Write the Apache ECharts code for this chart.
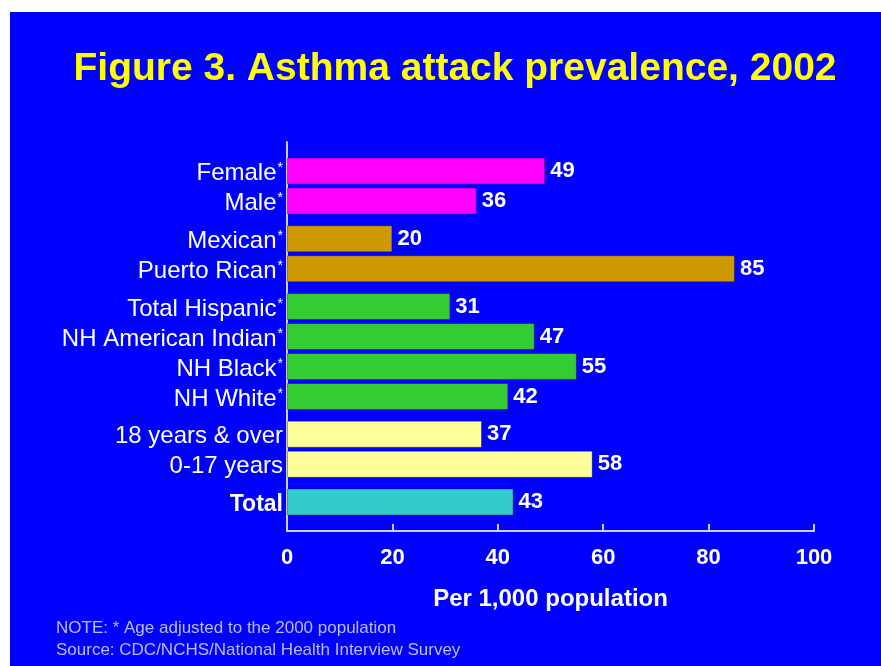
<!DOCTYPE html>
<html>
<head>
<meta charset="utf-8">
<title>Asthma attack prevalence, 2002</title>
<script src="https://cdn.jsdelivr.net/npm/echarts@6/dist/echarts.min.js"></script>
<style>
  html, body { margin: 0; padding: 0; background: #ffffff; }
  #chart { position: absolute; left: 10px; top: 12px; width: 871px; height: 654px; }
</style>
</head>
<body>
<div id="chart"></div>
<script>
  // data, one small array per group (top to bottom)
  var sexLabels = ['Female*', 'Male*'];
  var sexValues = [49, 36];
  var hispLabels = ['Mexican*', 'Puerto Rican*'];
  var hispValues = [20, 85];
  var raceLabels = ['Total Hispanic*', 'NH American Indian*', 'NH Black*', 'NH White*'];
  var raceValues = [31, 47, 55, 42];
  var ageLabels = ['18 years & over', '0-17 years'];
  var ageValues = [37, 58];
  var totalLabels = ['Total'];
  var totalValues = [43];
  var xTicks = [0, 20, 40, 60, 80, 100];

  var groups = [
    { labels: sexLabels, values: sexValues, color: '#ff00ff' },
    { labels: hispLabels, values: hispValues, color: '#cc9900' },
    { labels: raceLabels, values: raceValues, color: '#33cc33' },
    { labels: ageLabels, values: ageValues, color: '#ffff99' },
    { labels: totalLabels, values: totalValues, color: '#33cccc' }
  ];

  var font = 'Liberation Sans, Arial, sans-serif';
  var axisColor = '#ccccff';
  var plotLeft = 277, plotRight = 67;
  var slot = 30, groupGap = 7.75, firstTop = 144;

  var grids = [{ left: plotLeft, right: plotRight, top: 130, bottom: 135 }];
  var xAxes = [{
    type: 'value', gridIndex: 0,
    min: xTicks[0], max: xTicks[xTicks.length - 1], interval: xTicks[1] - xTicks[0],
    axisLine: { show: true, lineStyle: { color: axisColor, width: 2 } },
    axisTick: { show: true, inside: true, length: 7, lineStyle: { color: axisColor, width: 2 } },
    splitLine: { show: false },
    axisLabel: { color: '#ffffff', fontSize: 22, fontWeight: 'bold', fontFamily: font, margin: 16 },
    name: 'Per 1,000 population',
    nameLocation: 'middle',
    nameGap: 56,
    nameTextStyle: { color: '#ffffff', fontSize: 24, fontWeight: 'bold', fontFamily: font }
  }];
  var yAxes = [{
    type: 'value', gridIndex: 0,
    axisLine: { show: true, lineStyle: { color: axisColor, width: 2 } },
    axisTick: { show: false }, axisLabel: { show: false }, splitLine: { show: false }
  }];
  var series = [];

  function catLabel(v) {
    if (v === 'Total') return '{b|Total}';
    if (v.charAt(v.length - 1) === '*') return '{a|' + v.slice(0, -1) + '}{s|*}';
    return '{a|' + v + '}';
  }

  var used = 0;
  groups.forEach(function (g, i) {
    var idx = i + 1;
    grids.push({
      left: plotLeft, right: plotRight,
      top: firstTop + used * slot + i * groupGap,
      height: g.labels.length * slot
    });
    used += g.labels.length;
    xAxes.push({
      type: 'value', gridIndex: idx, min: 0, max: 100, show: false
    });
    yAxes.push({
      type: 'category', gridIndex: idx, inverse: true, data: g.labels,
      axisLine: { show: false }, axisTick: { show: false }, splitLine: { show: false },
      axisLabel: {
        margin: 4,
        formatter: catLabel,
        rich: {
          a: { color: '#ffffff', fontSize: 24, fontFamily: font, padding: [5, 0, 0, 0] },
          b: { color: '#ffffff', fontSize: 23, fontWeight: 'bold', fontFamily: font, padding: [5, 0, 0, 0] },
          s: { color: '#ffffff', fontSize: 14, fontFamily: font, verticalAlign: 'top', padding: [5, 0, 0, 1] }
        }
      }
    });
    series.push({
      type: 'bar', xAxisIndex: idx, yAxisIndex: idx,
      data: g.values,
      barWidth: 27,
      itemStyle: { color: g.color, borderColor: 'rgba(0,0,90,0.35)', borderWidth: 1 },
      label: {
        show: true, position: 'right', distance: 5,
        color: '#ffffff', fontSize: 22, fontWeight: 'bold', fontFamily: font
      }
    });
  });

  var chart = echarts.init(document.getElementById('chart'));
  chart.setOption({
    animation: false,
    backgroundColor: '#0000ff',
    title: [{
      text: 'Figure 3. Asthma attack prevalence, 2002',
      left: 440, top: 33, textAlign: 'center',
      textStyle: { color: '#ffff00', fontSize: 39, fontWeight: 'bold', fontFamily: font }
    }, {
      text: 'NOTE: * Age adjusted to the 2000 population\nSource: CDC/NCHS/National Health Interview Survey',
      left: 41, top: 600,
      textStyle: { color: '#bcbcf4', fontSize: 17, fontWeight: 'normal', fontFamily: font, lineHeight: 22 }
    }],
    grid: grids,
    xAxis: xAxes,
    yAxis: yAxes,
    series: series
  });
</script>
</body>
</html>
